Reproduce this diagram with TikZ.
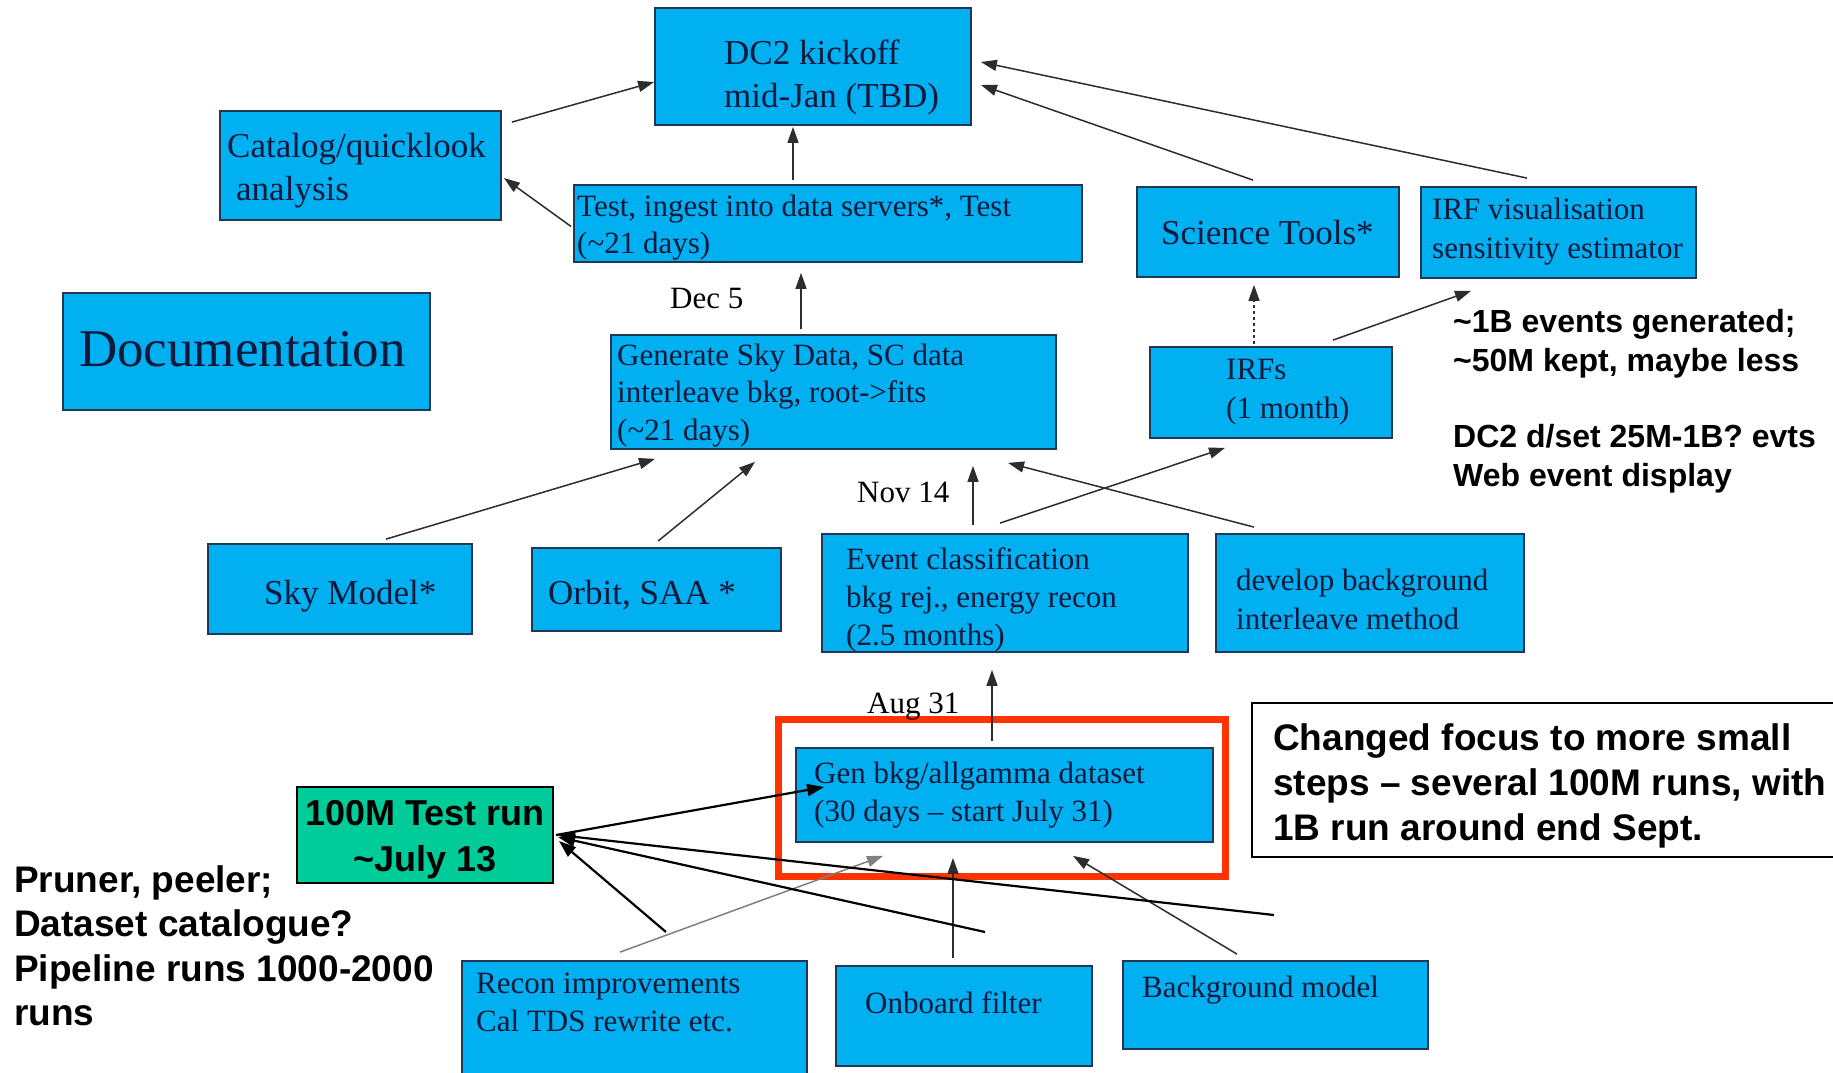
\documentclass[tikz,border=0pt]{standalone}
\usepackage{fontspec}
\setmainfont{Liberation Serif}
\setsansfont{Liberation Sans}
\usetikzlibrary{arrows.meta,calc}
\definecolor{boxblue}{RGB}{0,176,240}
\definecolor{boxedge}{RGB}{35,55,85}
\definecolor{boxtext}{RGB}{15,25,60}
\definecolor{linegray}{RGB}{45,45,45}
\definecolor{frame}{RGB}{255,51,0}
\definecolor{greenfill}{RGB}{0,204,153}
\newcommand{\myfs}[2]{\fontsize{#1}{#2}\selectfont}
\begin{document}
\begin{tikzpicture}[x=1pt,y=-1pt,
  box/.style={draw=boxedge,fill=boxblue,line width=1.8pt,inner sep=0pt},
  txt/.style={anchor=west,align=left,inner sep=0pt,text=boxtext,yshift=-3.5pt},
  note/.style={anchor=west,align=left,inner sep=0pt,font=\sffamily\bfseries},
  conn/.style={draw=linegray,line width=1.5pt,-{Triangle[length=16pt,width=11pt]}},
  bconn/.style={draw=black,line width=2.2pt,-{Triangle[length=17pt,width=12pt]}}]
\useasboundingbox (0,0) rectangle (1833,1073);
\fill[white] (0,0) rectangle (1833,1073);

% boxes
\node[box,minimum width=316pt,minimum height=117pt] (dc2) at (813,66.5) {};
\node[box,minimum width=281pt,minimum height=109pt] (cat) at (360.5,165.5) {};
\node[box,minimum width=508pt,minimum height=77pt] (test) at (828,223.5) {};
\node[box,minimum width=262pt,minimum height=90pt] (sci) at (1268,232) {};
\node[box,minimum width=275pt,minimum height=91pt] (irfv) at (1558.5,232.5) {};
\node[box,minimum width=367pt,minimum height=117pt] (doc) at (246.5,351.5) {};
\node[box,minimum width=445pt,minimum height=114pt] (gen) at (833.5,392) {};
\node[box,minimum width=242pt,minimum height=91pt] (irfs) at (1271,392.5) {};
\node[box,minimum width=264pt,minimum height=90pt] (sky) at (340,589) {};
\node[box,minimum width=249pt,minimum height=83pt] (orbit) at (656.5,589.5) {};
\node[box,minimum width=366pt,minimum height=118pt] (evt) at (1005,593) {};
\node[box,minimum width=308pt,minimum height=118pt] (dev) at (1370,593) {};
\node[box,minimum width=417pt,minimum height=94pt] (genbkg) at (1004.5,795) {};
\node[box,minimum width=345pt,minimum height=119pt] (recon) at (634.5,1020.5) {};
\node[box,minimum width=256pt,minimum height=100pt] (onboard) at (964,1016) {};
\node[box,minimum width=305pt,minimum height=88pt] (bgm) at (1275.5,1005) {};

% red frame
\node[draw=frame,line width=7pt,minimum width=447pt,minimum height=157pt,inner sep=0pt] (redframe) at (1001.5,797.5) {};
% changed focus box
\node[draw=black,fill=white,line width=2pt,minimum width=593pt,minimum height=154pt,inner sep=0pt] (changedbox) at (1548.5,780) {};
% green box
\node[draw=black,fill=greenfill,line width=2pt,minimum width=256pt,minimum height=96pt,inner sep=0pt] (t100) at (425,835) {};
\node[align=center,inner sep=0pt,font=\sffamily\bfseries\myfs{36}{46}] (t100t) at (425,839.5) {100M Test run\\\textasciitilde July 13};

% box texts
\node[txt,font=\myfs{35}{43}] (dc2t) at (724,74) {DC2 kickoff\\mid-Jan (TBD)};
\node[txt,font=\myfs{35}{43}] (catt) at (227,167.5) {Catalog/quicklook\\\hspace*{9pt}analysis};
\node[txt,font=\myfs{31}{37}] (testt) at (577,224.5) {Test, ingest into data servers*, Test\\(\textasciitilde 21 days)};
\node[txt,font=\myfs{35}{43}] (scit) at (1161,229) {Science Tools*};
\node[txt,font=\myfs{31}{39}] (irfvt) at (1432,228.5) {IRF visualisation\\sensitivity estimator};
\node[txt,font=\myfs{53}{60}] (doct) at (79,346) {Documentation};
\node[txt,font=\myfs{31}{37.5}] (gent) at (617,392) {Generate Sky Data, SC data\\interleave bkg, root->fits\\(\textasciitilde 21 days)};
\node[txt,font=\myfs{31}{39}] (irfst) at (1226,388.5) {IRFs\\(1 month)};
\node[txt,font=\myfs{35}{43}] (skyt) at (264,593) {Sky Model*};
\node[txt,font=\myfs{35}{43}] (orbitt) at (548,592) {Orbit, SAA *};
\node[txt,font=\myfs{31}{38}] (evtt) at (846,596) {Event classification\\bkg rej., energy recon\\(2.5 months)};
\node[txt,font=\myfs{31}{39}] (devt) at (1236,595.5) {develop background\\interleave method};
\node[txt,font=\myfs{31}{38}] (genbkgt) at (814,792) {Gen bkg/allgamma dataset\\(30 days – start July 31)};
\node[txt,font=\myfs{31}{38}] (recont) at (476,999) {Recon improvements\\Cal TDS rewrite etc.};
\node[txt,font=\myfs{31}{38}] (onboardt) at (865,999) {Onboard filter};
\node[txt,font=\myfs{31}{38}] (bgmt) at (1142,987) {Background model};

% date labels
\node[txt,text=black,font=\myfs{31}{37},yshift=3.5pt] (dec5) at (670,298) {Dec 5};
\node[txt,text=black,font=\myfs{31}{37},yshift=3.5pt] (nov14) at (857,492) {Nov 14};
\node[txt,text=black,font=\myfs{31}{37}] (aug31) at (867,703) {Aug 31};

% notes
\node[note,font=\sffamily\bfseries\myfs{32}{39}] (note1) at (1453,344) {\textasciitilde 1B events generated;\\\textasciitilde 50M kept, maybe less};
\node[note,font=\sffamily\bfseries\myfs{32}{39}] (note2) at (1453,458.5) {DC2 d/set 25M-1B? evts\\Web event display};
\node[note,font=\sffamily\bfseries\myfs{37}{44.5}] (pruner) at (14,946) {Pruner, peeler;\\Dataset catalogue?\\Pipeline runs 1000-2000\\runs};
\node[note,font=\sffamily\bfseries\myfs{37}{45}] (changed) at (1273,785.5) {Changed focus to more small\\steps – several 100M runs, with\\1B run around end Sept.};

% connectors
\draw[conn] ($(cat.north east)+(10,12)$) -- ($(dc2.west)+(0,15.5)$);
\draw[conn] ($(test.west)+(-2,3)$) -- ($(cat.east)+(2,12.5)$);
\draw[conn] ($(test.north)+(-35,-4)$) -- ($(dc2.south)+(-20,1)$);
\draw[conn] ($(sci.north)+(-15,-6)$) -- ($(dc2.east)+(9,18.5)$);
\draw[conn] ($(irfv.north)+(-31.5,-8)$) -- ($(dc2.east)+(9,-4.5)$);
\draw[conn] ($(gen.north)+(-32.5,-5)$) -- ($(test.south)+(-27,10)$);
\draw[conn,dashed] ($(irfs.north)+(-17,-2)$) -- ($(sci.south)+(-14,7)$);
\draw[conn] ($(irfs.north)+(62,-6)$) -- ($(irfv.south)+(-87.5,12)$);
\draw[conn] ($(sky.north)+(46,-4)$) -- ($(gen.south)+(-178.5,9)$);
\draw[conn] ($(orbit.north)+(1.5,-6)$) -- ($(gen.south)+(-78.5,12)$);
\draw[conn] ($(evt.north)+(-32,-8)$) -- ($(gen.south)+(139.5,16)$);
\draw[conn] ($(evt.north)+(-5,-10)$) -- ($(irfs.south)+(-46,9)$);
\draw[conn] ($(dev.north)+(-116,-6)$) -- ($(gen.south)+(174.5,13)$);
\draw[conn] ($(genbkg.north)+(-12.5,-6)$) -- ($(evt.south)+(-13,17)$);
\draw[conn,draw=gray] ($(recon.north)+(-14.5,-8)$) -- ($(genbkg.south)+(-121.5,13)$);
\draw[conn] ($(onboard.north)+(-11,-7)$) -- ($(genbkg.south)+(-51.5,15)$);
\draw[conn] ($(bgm.north)+(-38.5,-6)$) -- ($(genbkg.south)+(68.5,13)$);

% 100M test run connectors
\coordinate (c1) at (666,932);
\coordinate (c2) at (985,932);
\coordinate (c3) at (1274,915);
\draw[bconn] ($(t100.east)+(2,0)$) -- ($(genbkg.west)+(29,-8)$);
\draw[bconn] (c1) -- ($(t100.east)+(5,6)$);
\draw[bconn] (c2) -- ($(t100.east)+(4,2)$);
\draw[bconn] (c3) -- ($(t100.east)+(4,0)$);
\end{tikzpicture}
\end{document}
